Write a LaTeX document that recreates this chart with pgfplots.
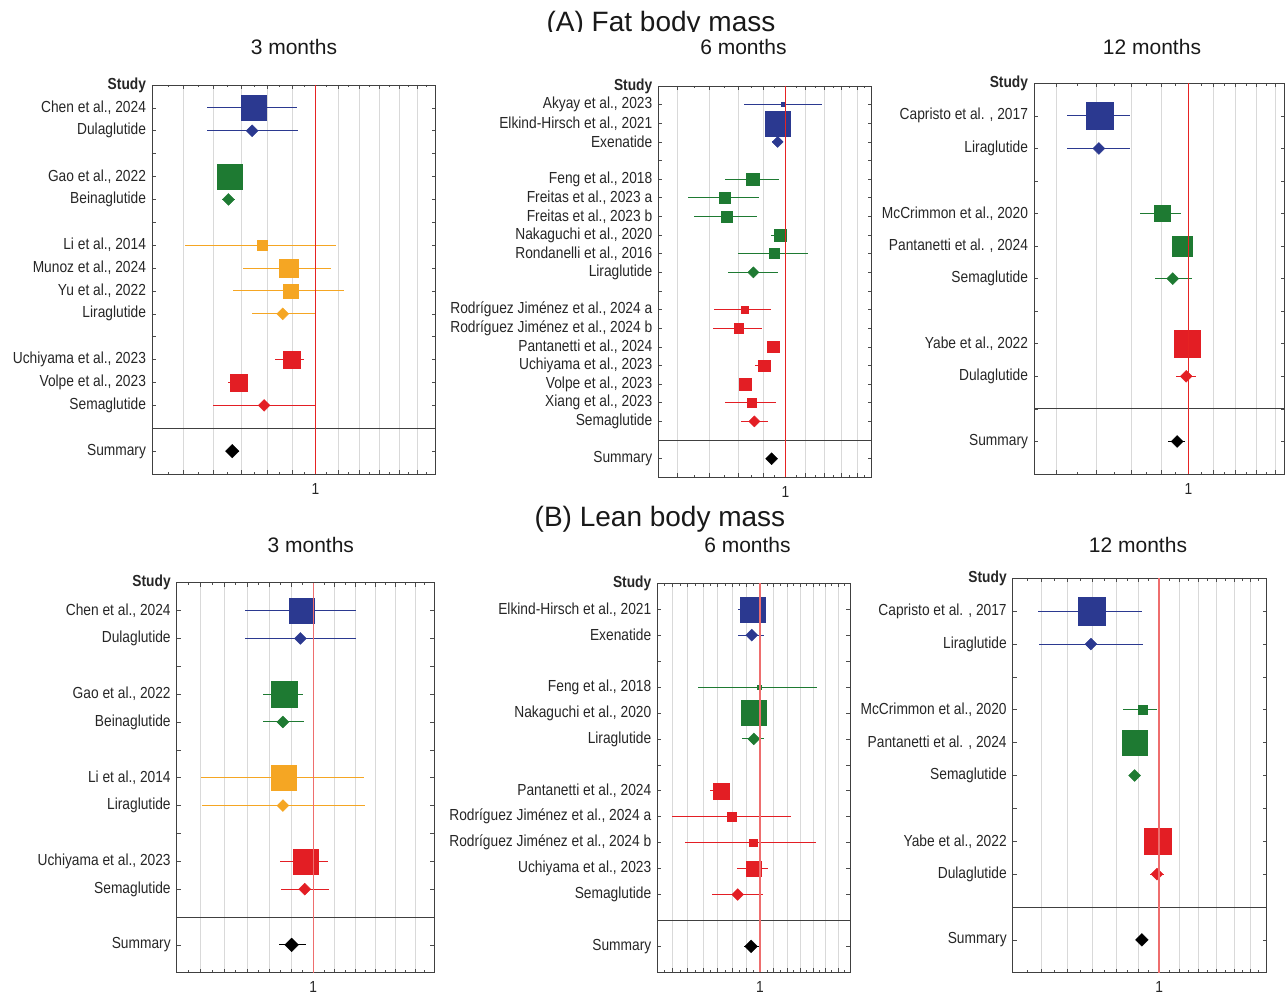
\documentclass[border=0pt]{standalone}
\usepackage{fontspec}
\setmainfont{Liberation Sans}
\newfontfamily\labfont{Liberation Sans}[FakeStretch=0.86]
\usepackage{pgfplots}
\pgfplotsset{compat=1.18}
\definecolor{cblue}{RGB}{43,57,144}
\definecolor{cgreen}{RGB}{30,122,50}
\definecolor{corange}{RGB}{245,166,35}
\definecolor{cred}{RGB}{227,30,36}
\definecolor{refred}{RGB}{230,35,35}
\definecolor{refpink}{RGB}{238,110,110}
\newcommand{\labsize}{\labfont\fontsize{16}{18}\selectfont}
\pgfplotsset{
  /pgfplots/forestaxis/.style={
    scale only axis, anchor=south west,
    y dir=reverse, ymin=0,
    axis line style={black!75, line width=0.9pt},
    tick align=inside, major tick length=4pt, minor tick length=2.5pt,
    tick style={black!70, line width=0.6pt},
    xtick pos=both, ytick pos=both, xticklabel pos=bottom, yticklabel pos=left,
    xmajorgrids, major x grid style={black!15, line width=0.6pt},
    yticklabel style={font=\labsize, text=black!85, xshift=-2.5pt},
    xticklabel style={font=\labsize, text=black!85, yshift=-5.5pt},
    extra x ticks={1}, extra x tick labels={1}, extra x tick style={grid=none},
    point meta min=0, point meta max=100,
  },
  /pgfplots/ptbase/.style={only marks, scatter, color=#1,
    scatter/use mapped color={draw=#1, fill=#1},
    visualization depends on={\thisrow{s} \as \ms},
    scatter/@pre marker code/.append style={/tikz/mark size=\ms},
    error bars/x dir=both, error bars/x explicit, error bars/error mark=none,
    error bars/error bar style={#1, line width=1pt}},
  /pgfplots/ptsq/.style={ptbase=#1, mark=square*},
  /pgfplots/ptdm/.style={ptbase=#1, mark=square*, mark options={rotate=45}},
}
\begin{document}
\begin{tikzpicture}
\useasboundingbox (0pt,0pt) rectangle (1285pt,994pt);
% titles
\begin{scope}
\clip (0pt,962pt) rectangle (1285pt,994pt);
\node[anchor=base, font=\fontsize{28}{32}\selectfont, text=black!90] at (661pt,962pt) {(A) Fat body mass};
\end{scope}
\node[anchor=base, font=\fontsize{28}{32}\selectfont, text=black!90] at (660pt,467pt) {(B) Lean body mass};
\node[anchor=base, font=\fontsize{21}{24}\selectfont, text=black!90] at (294pt,939pt) {3 months};
\node[anchor=base, font=\fontsize{21}{24}\selectfont, text=black!90] at (743.5pt,939pt) {6 months};
\node[anchor=base, font=\fontsize{21}{24}\selectfont, text=black!90] at (1152pt,939pt) {12 months};
\node[anchor=base, font=\fontsize{21}{24}\selectfont, text=black!90] at (310.8pt,441pt) {3 months};
\node[anchor=base, font=\fontsize{21}{24}\selectfont, text=black!90] at (747.5pt,441pt) {6 months};
\node[anchor=base, font=\fontsize{21}{24}\selectfont, text=black!90] at (1138pt,441pt) {12 months};

% ---------- A, 3 months ----------
\begin{axis}[forestaxis, xmode=log, at={(152pt,520pt)}, width=283.7pt, height=389pt,
  xmin=0.7, xmax=1.3, ymax=17,
  xtick={0.75,0.8,0.85,0.9,0.95,1.05,1.1,1.15,1.2,1.25}, xticklabels={},
  minor xtick={0.725,0.775,0.825,0.875,0.925,0.975,1.025,1.075,1.125,1.175,1.225,1.275},
  ytick={0,...,16},
  yticklabels={\textbf{Study},{Chen et al., 2024},Dulaglutide,,{Gao et al., 2022},Beinaglutide,,{Li et al., 2014},{Munoz et al., 2024},{Yu et al., 2022},Liraglutide,,{Uchiyama et al., 2023},{Volpe et al., 2023},Semaglutide,,Summary}]
\draw[black!75, line width=0.9pt] (axis cs:0.7,15) -- (axis cs:1.3,15);
\addplot[ptsq=cblue] table[row sep=\\, x=x, y=y, x error plus expr=\thisrow{hi}-\thisrow{x}, x error minus expr=\thisrow{x}-\thisrow{lo}] {y x lo hi s\\ 1 0.874 0.789 0.961 12.5\\};
\addplot[ptdm=cblue] table[row sep=\\, x=x, y=y, x error plus expr=\thisrow{hi}-\thisrow{x}, x error minus expr=\thisrow{x}-\thisrow{lo}] {y x lo hi s\\ 2 0.871 0.790 0.963 4.2\\};
\addplot[ptsq=cgreen] table[row sep=\\, x=x, y=y, x error plus expr=\thisrow{hi}-\thisrow{x}, x error minus expr=\thisrow{x}-\thisrow{lo}] {y x lo hi s\\ 4 0.830 0.822 0.838 12.5\\};
\addplot[ptdm=cgreen] table[row sep=\\, x=x, y=y, x error plus expr=\thisrow{hi}-\thisrow{x}, x error minus expr=\thisrow{x}-\thisrow{lo}] {y x lo hi s\\ 5 0.827 0.815 0.839 4.2\\};
\addplot[ptsq=corange] table[row sep=\\, x=x, y=y, x error plus expr=\thisrow{hi}-\thisrow{x}, x error minus expr=\thisrow{x}-\thisrow{lo}] {y x lo hi s\\ 7 0.891 0.752 1.046 5\\ 8 0.943 0.854 1.034 9.2\\ 9 0.947 0.835 1.065 7.2\\};
\addplot[ptdm=corange] table[row sep=\\, x=x, y=y, x error plus expr=\thisrow{hi}-\thisrow{x}, x error minus expr=\thisrow{x}-\thisrow{lo}] {y x lo hi s\\ 10 0.931 0.871 0.998 4.2\\};
\addplot[ptsq=cred] table[row sep=\\, x=x, y=y, x error plus expr=\thisrow{hi}-\thisrow{x}, x error minus expr=\thisrow{x}-\thisrow{lo}] {y x lo hi s\\ 12 0.949 0.916 0.976 8.7\\ 13 0.846 0.826 0.861 8.7\\};
\addplot[ptdm=cred] table[row sep=\\, x=x, y=y, x error plus expr=\thisrow{hi}-\thisrow{x}, x error minus expr=\thisrow{x}-\thisrow{lo}] {y x lo hi s\\ 14 0.894 0.799 1.000 4.2\\};
\addplot[ptdm=black] table[row sep=\\, x=x, y=y, x error plus expr=\thisrow{hi}-\thisrow{x}, x error minus expr=\thisrow{x}-\thisrow{lo}] {y x lo hi s\\ 16 0.834 0.822 0.847 4.8\\};
\end{axis}

% ---------- A, 6 months ----------
\begin{axis}[forestaxis, xmode=log, at={(658.3pt,516.7pt)}, width=213.4pt, height=391.3pt,
  xmin=0.55, xmax=1.5, ymax=21,
  xtick={0.6,0.7,0.8,0.9,1.1,1.2,1.3,1.4}, xticklabels={},
  minor xtick={0.65,0.75,0.85,0.95,1.05,1.15,1.25,1.35,1.45},
  ytick={0,...,20},
  yticklabels={\textbf{Study},{Akyay et al., 2023},{Elkind-Hirsch et al., 2021},Exenatide,,{Feng et al., 2018},{Freitas et al., 2023 a},{Freitas et al., 2023 b},{Nakaguchi et al., 2020},{Rondanelli et al., 2016},Liraglutide,,{Rodríguez Jiménez et al., 2024 a},{Rodríguez Jiménez et al., 2024 b},{Pantanetti et al., 2024},{Uchiyama et al., 2023},{Volpe et al., 2023},{Xiang et al., 2023},Semaglutide,,Summary}]
\draw[black!75, line width=0.9pt] (axis cs:0.55,19) -- (axis cs:1.5,19);
\addplot[ptsq=cblue] table[row sep=\\, x=x, y=y, x error plus expr=\thisrow{hi}-\thisrow{x}, x error minus expr=\thisrow{x}-\thisrow{lo}] {y x lo hi s\\ 1 0.990 0.824 1.186 2\\ 2 0.963 0.950 0.975 12.5\\};
\addplot[ptdm=cblue] table[row sep=\\, x=x, y=y, x error plus expr=\thisrow{hi}-\thisrow{x}, x error minus expr=\thisrow{x}-\thisrow{lo}] {y x lo hi s\\ 3 0.964 0.937 0.990 3.9\\};
\addplot[ptsq=cgreen] table[row sep=\\, x=x, y=y, x error plus expr=\thisrow{hi}-\thisrow{x}, x error minus expr=\thisrow{x}-\thisrow{lo}] {y x lo hi s\\ 5 0.858 0.752 0.971 6.2\\ 6 0.751 0.631 0.884 5.3\\ 7 0.758 0.651 0.873 5.7\\ 8 0.974 0.933 1.002 6\\ 9 0.949 0.799 1.110 5\\};
\addplot[ptdm=cgreen] table[row sep=\\, x=x, y=y, x error plus expr=\thisrow{hi}-\thisrow{x}, x error minus expr=\thisrow{x}-\thisrow{lo}] {y x lo hi s\\ 10 0.860 0.764 0.967 3.9\\};
\addplot[ptsq=cred] table[row sep=\\, x=x, y=y, x error plus expr=\thisrow{hi}-\thisrow{x}, x error minus expr=\thisrow{x}-\thisrow{lo}] {y x lo hi s\\ 12 0.825 0.714 0.934 3.7\\ 13 0.802 0.712 0.894 4.7\\ 14 0.944 0.930 0.960 5.8\\ 15 0.905 0.866 0.930 5.8\\ 16 0.827 0.815 0.840 5.8\\ 17 0.854 0.752 0.956 4.7\\};
\addplot[ptdm=cred] table[row sep=\\, x=x, y=y, x error plus expr=\thisrow{hi}-\thisrow{x}, x error minus expr=\thisrow{x}-\thisrow{lo}] {y x lo hi s\\ 18 0.864 0.810 0.920 3.9\\};
\addplot[ptdm=black] table[row sep=\\, x=x, y=y, x error plus expr=\thisrow{hi}-\thisrow{x}, x error minus expr=\thisrow{x}-\thisrow{lo}] {y x lo hi s\\ 20 0.937 0.920 0.955 4.2\\};
\end{axis}

% ---------- A, 12 months ----------
\begin{axis}[forestaxis, xmode=log, at={(1034pt,520pt)}, width=250.5pt, height=390.7pt,
  xmin=0.55, xmax=1.45, ymax=12,
  xtick={0.6,0.7,0.8,0.9,1.1,1.2,1.3,1.4}, xticklabels={},
  minor xtick={0.65,0.75,0.85,0.95,1.05,1.15,1.25,1.35},
  ytick={0,...,11},
  yticklabels={\textbf{Study},{Capristo et al. , 2017},Liraglutide,,{McCrimmon et al., 2020},{Pantanetti et al. , 2024},Semaglutide,,{Yabe et al., 2022},Dulaglutide,,Summary}]
\draw[black!75, line width=0.9pt] (axis cs:0.55,10) -- (axis cs:1.45,10);
\addplot[ptsq=cblue] table[row sep=\\, x=x, y=y, x error plus expr=\thisrow{hi}-\thisrow{x}, x error minus expr=\thisrow{x}-\thisrow{lo}] {y x lo hi s\\ 1 0.709 0.624 0.797 13.3\\};
\addplot[ptdm=cblue] table[row sep=\\, x=x, y=y, x error plus expr=\thisrow{hi}-\thisrow{x}, x error minus expr=\thisrow{x}-\thisrow{lo}] {y x lo hi s\\ 2 0.707 0.626 0.799 4.2\\};
\addplot[ptsq=cgreen] table[row sep=\\, x=x, y=y, x error plus expr=\thisrow{hi}-\thisrow{x}, x error minus expr=\thisrow{x}-\thisrow{lo}] {y x lo hi s\\ 4 0.905 0.828 0.972 8\\ 5 0.975 0.960 0.990 10.2\\};
\addplot[ptdm=cgreen] table[row sep=\\, x=x, y=y, x error plus expr=\thisrow{hi}-\thisrow{x}, x error minus expr=\thisrow{x}-\thisrow{lo}] {y x lo hi s\\ 6 0.941 0.877 1.014 4.2\\};
\addplot[ptsq=cred] table[row sep=\\, x=x, y=y, x error plus expr=\thisrow{hi}-\thisrow{x}, x error minus expr=\thisrow{x}-\thisrow{lo}] {y x lo hi s\\ 8 0.995 0.985 1.005 13.3\\};
\addplot[ptdm=cred] table[row sep=\\, x=x, y=y, x error plus expr=\thisrow{hi}-\thisrow{x}, x error minus expr=\thisrow{x}-\thisrow{lo}] {y x lo hi s\\ 9 0.991 0.951 1.030 4.2\\};
\addplot[ptdm=black] table[row sep=\\, x=x, y=y, x error plus expr=\thisrow{hi}-\thisrow{x}, x error minus expr=\thisrow{x}-\thisrow{lo}] {y x lo hi s\\ 11 0.957 0.923 0.985 4.2\\};
\end{axis}

% ---------- B, 3 months ----------
\begin{axis}[forestaxis, xmode=log, at={(176.7pt,21.3pt)}, width=257.6pt, height=390pt,
  xmin=0.88, xmax=1.12, ymax=14,
  xtick={0.9,0.92,0.94,0.96,0.98,1.02,1.04,1.06,1.08,1.1}, xticklabels={},
  minor xtick={0.89,0.91,0.93,0.95,0.97,0.99,1.01,1.03,1.05,1.07,1.09,1.11},
  ytick={0,...,13},
  yticklabels={\textbf{Study},{Chen et al., 2024},Dulaglutide,,{Gao et al., 2022},Beinaglutide,,{Li et al., 2014},Liraglutide,,{Uchiyama et al., 2023},Semaglutide,,Summary}]
\draw[black!75, line width=0.9pt] (axis cs:0.88,12) -- (axis cs:1.12,12);
\addplot[ptsq=cblue] table[row sep=\\, x=x, y=y, x error plus expr=\thisrow{hi}-\thisrow{x}, x error minus expr=\thisrow{x}-\thisrow{lo}] {y x lo hi s\\ 1 0.989 0.938 1.041 12.7\\};
\addplot[ptdm=cblue] table[row sep=\\, x=x, y=y, x error plus expr=\thisrow{hi}-\thisrow{x}, x error minus expr=\thisrow{x}-\thisrow{lo}] {y x lo hi s\\ 2 0.988 0.938 1.041 4.2\\};
\addplot[ptsq=cgreen] table[row sep=\\, x=x, y=y, x error plus expr=\thisrow{hi}-\thisrow{x}, x error minus expr=\thisrow{x}-\thisrow{lo}] {y x lo hi s\\ 4 0.973 0.954 0.990 12.7\\};
\addplot[ptdm=cgreen] table[row sep=\\, x=x, y=y, x error plus expr=\thisrow{hi}-\thisrow{x}, x error minus expr=\thisrow{x}-\thisrow{lo}] {y x lo hi s\\ 5 0.972 0.954 0.991 4.2\\};
\addplot[ptsq=corange] table[row sep=\\, x=x, y=y, x error plus expr=\thisrow{hi}-\thisrow{x}, x error minus expr=\thisrow{x}-\thisrow{lo}] {y x lo hi s\\ 7 0.973 0.900 1.049 12.5\\};
\addplot[ptdm=corange] table[row sep=\\, x=x, y=y, x error plus expr=\thisrow{hi}-\thisrow{x}, x error minus expr=\thisrow{x}-\thisrow{lo}] {y x lo hi s\\ 8 0.972 0.901 1.050 4.2\\};
\addplot[ptsq=cred] table[row sep=\\, x=x, y=y, x error plus expr=\thisrow{hi}-\thisrow{x}, x error minus expr=\thisrow{x}-\thisrow{lo}] {y x lo hi s\\ 10 0.993 0.969 1.014 12.5\\};
\addplot[ptdm=cred] table[row sep=\\, x=x, y=y, x error plus expr=\thisrow{hi}-\thisrow{x}, x error minus expr=\thisrow{x}-\thisrow{lo}] {y x lo hi s\\ 11 0.992 0.970 1.015 4.2\\};
\addplot[ptdm=black] table[row sep=\\, x=x, y=y, x error plus expr=\thisrow{hi}-\thisrow{x}, x error minus expr=\thisrow{x}-\thisrow{lo}] {y x lo hi s\\ 13 0.980 0.968 0.993 4.8\\};
\end{axis}

% ---------- B, 6 months ----------
\begin{axis}[forestaxis, xmode=log, at={(657.3pt,21.7pt)}, width=192.7pt, height=389pt,
  xmin=0.861, xmax=1.14, ymax=15,
  xtick={0.88,0.9,0.92,0.94,0.96,0.98,1.02,1.04,1.06,1.08,1.1,1.12}, xticklabels={},
  minor xtick={0.87,0.89,0.91,0.93,0.95,0.97,0.99,1.01,1.03,1.05,1.07,1.09,1.11,1.13},
  ytick={0,...,14},
  yticklabels={\textbf{Study},{Elkind-Hirsch et al., 2021},Exenatide,,{Feng et al., 2018},{Nakaguchi et al., 2020},Liraglutide,,{Pantanetti et al., 2024},{Rodríguez Jiménez et al., 2024 a},{Rodríguez Jiménez et al., 2024 b},{Uchiyama et al., 2023},Semaglutide,,Summary}]
\draw[black!75, line width=0.9pt] (axis cs:0.861,13) -- (axis cs:1.14,13);
\addplot[ptsq=cblue] table[row sep=\\, x=x, y=y, x error plus expr=\thisrow{hi}-\thisrow{x}, x error minus expr=\thisrow{x}-\thisrow{lo}] {y x lo hi s\\ 1 0.989 0.968 1.007 12.5\\};
\addplot[ptdm=cblue] table[row sep=\\, x=x, y=y, x error plus expr=\thisrow{hi}-\thisrow{x}, x error minus expr=\thisrow{x}-\thisrow{lo}] {y x lo hi s\\ 2 0.988 0.969 1.006 4.2\\};
\addplot[ptsq=cgreen] table[row sep=\\, x=x, y=y, x error plus expr=\thisrow{hi}-\thisrow{x}, x error minus expr=\thisrow{x}-\thisrow{lo}] {y x lo hi s\\ 4 0.999 0.913 1.086 2\\ 5 0.991 0.975 1.005 12.5\\};
\addplot[ptdm=cgreen] table[row sep=\\, x=x, y=y, x error plus expr=\thisrow{hi}-\thisrow{x}, x error minus expr=\thisrow{x}-\thisrow{lo}] {y x lo hi s\\ 6 0.991 0.974 1.006 4.2\\};
\addplot[ptsq=cred] table[row sep=\\, x=x, y=y, x error plus expr=\thisrow{hi}-\thisrow{x}, x error minus expr=\thisrow{x}-\thisrow{lo}] {y x lo hi s\\ 8 0.945 0.930 0.956 8\\ 9 0.960 0.879 1.046 4.5\\ 10 0.990 0.896 1.085 3.7\\ 11 0.991 0.967 1.011 7.2\\};
\addplot[ptdm=cred] table[row sep=\\, x=x, y=y, x error plus expr=\thisrow{hi}-\thisrow{x}, x error minus expr=\thisrow{x}-\thisrow{lo}] {y x lo hi s\\ 12 0.968 0.933 1.004 4.2\\};
\addplot[ptdm=black] table[row sep=\\, x=x, y=y, x error plus expr=\thisrow{hi}-\thisrow{x}, x error minus expr=\thisrow{x}-\thisrow{lo}] {y x lo hi s\\ 14 0.987 0.977 0.998 4.5\\};
\end{axis}

% ---------- B, 12 months ----------
\begin{axis}[forestaxis, xmode=log, at={(1012.7pt,21.3pt)}, width=254pt, height=394.4pt,
  xmin=0.7, xmax=1.3, ymax=12,
  xtick={0.75,0.8,0.85,0.9,0.95,1.05,1.1,1.15,1.2,1.25}, xticklabels={},
  minor xtick={0.725,0.775,0.825,0.875,0.925,0.975,1.025,1.075,1.125,1.175,1.225,1.275},
  ytick={0,...,11},
  yticklabels={\textbf{Study},{Capristo et al. , 2017},Liraglutide,,{McCrimmon et al., 2020},{Pantanetti et al. , 2024},Semaglutide,,{Yabe et al., 2022},Dulaglutide,,Summary}]
\draw[black!75, line width=0.9pt] (axis cs:0.7,10) -- (axis cs:1.3,10);
\addplot[ptsq=cblue] table[row sep=\\, x=x, y=y, x error plus expr=\thisrow{hi}-\thisrow{x}, x error minus expr=\thisrow{x}-\thisrow{lo}] {y x lo hi s\\ 1 0.848 0.745 0.960 13.7\\};
\addplot[ptdm=cblue] table[row sep=\\, x=x, y=y, x error plus expr=\thisrow{hi}-\thisrow{x}, x error minus expr=\thisrow{x}-\thisrow{lo}] {y x lo hi s\\ 2 0.847 0.746 0.962 4.2\\};
\addplot[ptsq=cgreen] table[row sep=\\, x=x, y=y, x error plus expr=\thisrow{hi}-\thisrow{x}, x error minus expr=\thisrow{x}-\thisrow{lo}] {y x lo hi s\\ 4 0.960 0.915 0.995 4.5\\ 5 0.942 0.935 0.950 12.2\\};
\addplot[ptdm=cgreen] table[row sep=\\, x=x, y=y, x error plus expr=\thisrow{hi}-\thisrow{x}, x error minus expr=\thisrow{x}-\thisrow{lo}] {y x lo hi s\\ 6 0.942 0.936 0.949 4.2\\};
\addplot[ptsq=cred] table[row sep=\\, x=x, y=y, x error plus expr=\thisrow{hi}-\thisrow{x}, x error minus expr=\thisrow{x}-\thisrow{lo}] {y x lo hi s\\ 8 0.997 0.990 1.004 13.3\\};
\addplot[ptdm=cred] table[row sep=\\, x=x, y=y, x error plus expr=\thisrow{hi}-\thisrow{x}, x error minus expr=\thisrow{x}-\thisrow{lo}] {y x lo hi s\\ 9 0.995 0.979 1.011 4.2\\};
\addplot[ptdm=black] table[row sep=\\, x=x, y=y, x error plus expr=\thisrow{hi}-\thisrow{x}, x error minus expr=\thisrow{x}-\thisrow{lo}] {y x lo hi s\\ 11 0.959 0.950 0.968 4.5\\};
\end{axis}

% reference lines at 1 (positions of x=1 in each axis), drawn over everything as thin filled strips
\fill[refred] (314.81pt,520pt) rectangle (316.11pt,909pt);
\fill[refred] (784.81pt,516.7pt) rectangle (786.11pt,908pt);
\fill[refred] (1187.84pt,520pt) rectangle (1189.14pt,910.7pt);
\fill[refpink] (312.6pt,21.3pt) rectangle (313.9pt,411.3pt);
\fill[refpink] (759.4pt,21.7pt) rectangle (760.7pt,410.7pt);
\fill[refpink] (1158.4pt,21.3pt) rectangle (1159.7pt,415.7pt);
\end{tikzpicture}
\end{document}
